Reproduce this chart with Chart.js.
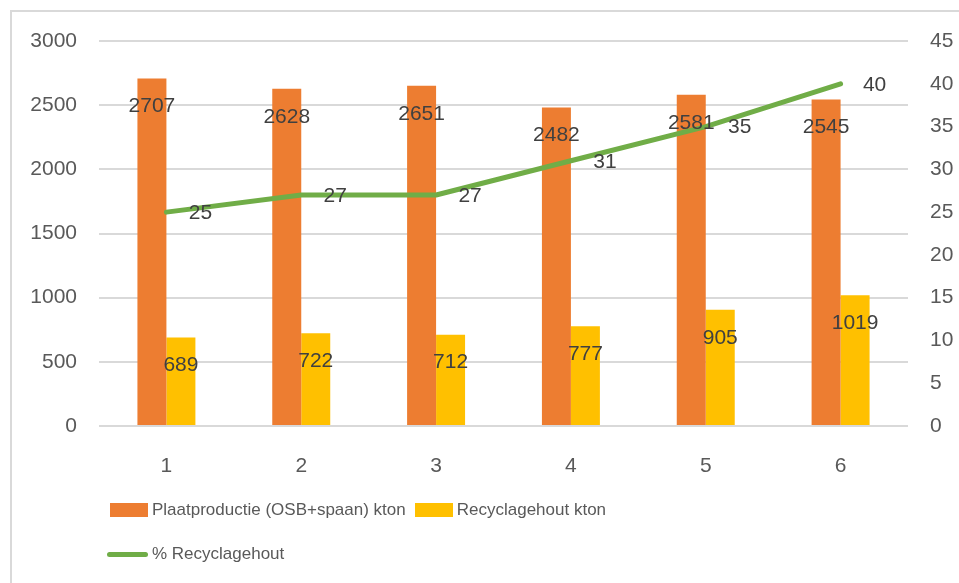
<!DOCTYPE html>
<html>
<head>
<meta charset="utf-8">
<title>Plaatproductie en recyclagehout</title>
<script src="https://cdn.jsdelivr.net/npm/chart.js@4.4.1/dist/chart.umd.min.js"></script>
<style>
  body { margin: 0; background: #fff; }
  #wrap { position: relative; width: 959px; height: 583px; overflow: hidden; }
  #frame {
    position: absolute; left: 10px; top: 10px; width: 1200px; height: 1200px;
    border-left: 2px solid #d9d9d9; border-top: 2px solid #d9d9d9;
  }
  #chart { position: absolute; left: 0; top: 0; }
  #legend {
    position: absolute; left: 107px; top: 497px; width: 560px;
    display: flex; flex-wrap: wrap; row-gap: 18px;
    font-family: "Liberation Sans", sans-serif;
    font-size: 17px; color: #595959;
  }
  .item { display: flex; align-items: center; height: 26px; margin-right: 6px; }
  .swatch { width: 38px; height: 14px; margin-right: 4px; margin-left: 3px; }
  .stroke { width: 41px; height: 5px; border-radius: 3px; margin-right: 4px; }
</style>
</head>
<body>
<div id="wrap">
  <div id="frame"></div>
  <canvas id="chart" width="959" height="583"></canvas>
  <div id="legend"></div>
</div>
<script>
const categories = ['1', '2', '3', '4', '5', '6'];
const plaatproductie = [2707, 2628, 2651, 2482, 2581, 2545];
const recyclagehout = [689, 722, 712, 777, 905, 1019];
const recyclagePct = [25, 27, 27, 31, 35, 40];

const orange = '#ed7d31';
const yellow = '#ffc000';
const green = '#70ad47';

const tickFont = { family: '"Liberation Sans", sans-serif', size: 21 };

// value labels: bars get theirs just inside the top, the line to the right of each point
const valueLabels = {
  id: 'valueLabels',
  afterDatasetsDraw(chart) {
    const ctx = chart.ctx;
    ctx.save();
    ctx.font = '21px "Liberation Sans", sans-serif';
    ctx.fillStyle = '#404040';
    ctx.textAlign = 'center';
    ctx.textBaseline = 'middle';
    chart.data.datasets.forEach((ds, i) => {
      const meta = chart.getDatasetMeta(i);
      meta.data.forEach((el, j) => {
        const v = ds.data[j];
        if (ds.type === 'line') {
          ctx.fillText(v, el.x + 34, el.y + 1);
        } else {
          ctx.fillText(v, el.x, el.y + 28);
        }
      });
    });
    ctx.restore();
  }
};

const chart = new Chart(document.getElementById('chart'), {
  type: 'bar',
  data: {
    labels: categories,
    datasets: [
      {
        label: 'Plaatproductie (OSB+spaan) kton',
        data: plaatproductie,
        backgroundColor: orange,
        yAxisID: 'y',
        order: 1
      },
      {
        label: 'Recyclagehout kton',
        data: recyclagehout,
        backgroundColor: yellow,
        yAxisID: 'y',
        order: 2
      },
      {
        type: 'line',
        label: '% Recyclagehout',
        data: recyclagePct,
        borderColor: green,
        borderWidth: 5,
        borderCapStyle: 'round',
        borderJoinStyle: 'round',
        pointRadius: 0,
        tension: 0,
        yAxisID: 'y1',
        order: 0
      }
    ]
  },
  options: {
    responsive: false,
    animation: false,
    layout: { padding: { top: 41, bottom: 107, left: 0, right: 0 } },
    datasets: {
      bar: { categoryPercentage: 0.43, barPercentage: 1.0 }
    },
    scales: {
      x: {
        grid: { display: false },
        border: { display: false },
        ticks: { color: '#595959', font: tickFont, padding: 20 },
        afterFit: s => { s.height = 50; }
      },
      y: {
        position: 'left',
        min: 0,
        max: 3000,
        ticks: {
          stepSize: 500, color: '#595959', font: tickFont, padding: 22,
          callback: v => String(v)
        },
        grid: { color: '#d9d9d9', lineWidth: 2, drawTicks: false },
        border: { display: false },
        afterFit: s => { s.width = 99; }
      },
      y1: {
        position: 'right',
        min: 0,
        max: 45,
        ticks: {
          stepSize: 5, color: '#595959', font: tickFont, padding: 22,
          callback: v => String(v)
        },
        grid: { display: false, drawTicks: false },
        border: { display: false },
        afterFit: s => { s.width = 51; }
      }
    },
    plugins: {
      legend: { display: false },
      tooltip: { enabled: false }
    }
  },
  plugins: [valueLabels]
});

// legend below the chart, built from the datasets
const legend = document.getElementById('legend');
chart.data.datasets.forEach(ds => {
  const item = document.createElement('div');
  item.className = 'item';
  const mark = document.createElement('span');
  if (ds.type === 'line') {
    mark.className = 'stroke';
    mark.style.background = ds.borderColor;
    item.style.width = '100%';
  } else {
    mark.className = 'swatch';
    mark.style.background = ds.backgroundColor;
  }
  const text = document.createElement('span');
  text.textContent = ds.label;
  item.appendChild(mark);
  item.appendChild(text);
  legend.appendChild(item);
});
</script>
</body>
</html>
